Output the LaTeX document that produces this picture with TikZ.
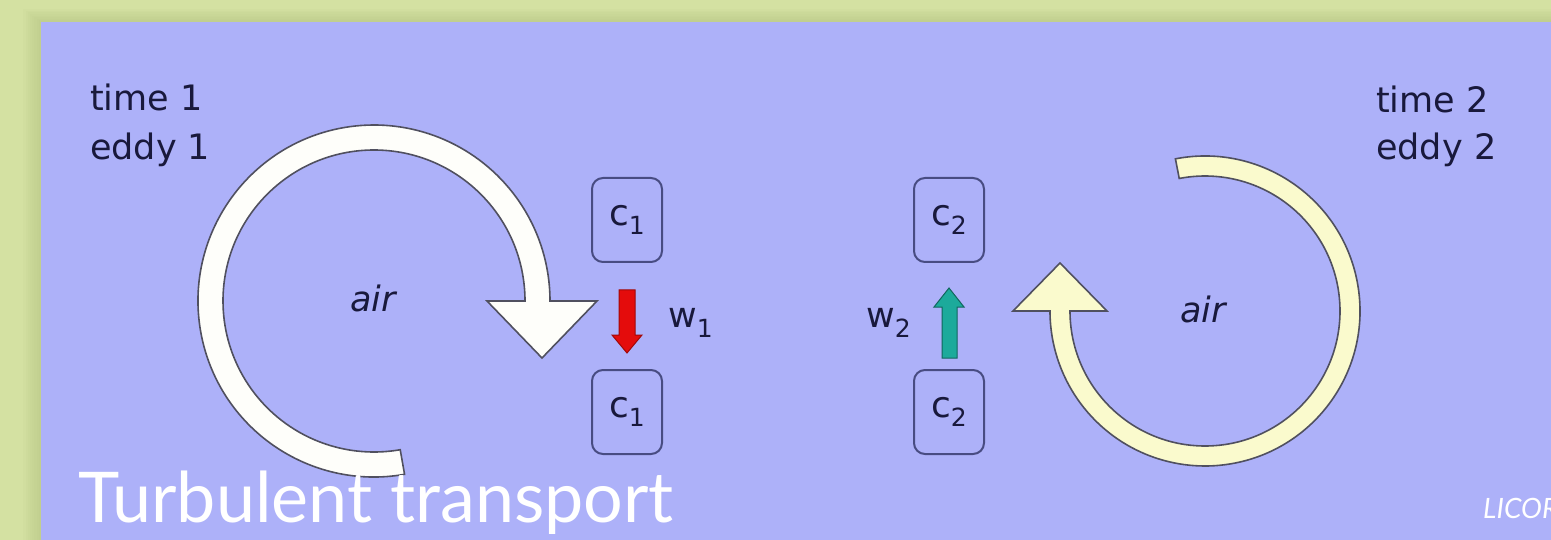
\documentclass[tikz,border=0pt]{standalone}
\usepackage{fontspec}
\newfontfamily\labfam{DejaVu Sans}
\newfontfamily\ttlfam{Lato}
\definecolor{bggreen}{RGB}{212,225,162}
\definecolor{shadowgreen}{RGB}{170,185,120}
\definecolor{panelblue}{RGB}{173,177,249}
\definecolor{ink}{RGB}{25,25,60}
\definecolor{boxline}{RGB}{72,76,130}
\definecolor{ringline}{RGB}{80,80,95}
\definecolor{eddyA}{RGB}{254,254,250}
\definecolor{eddyB}{RGB}{250,250,205}
\definecolor{wred}{RGB}{228,12,12}
\definecolor{wteal}{RGB}{28,170,155}
\begin{document}
\begin{tikzpicture}[x=1pt,y=-1pt,
  lbl/.style={font={\labfam\fontsize{35}{42}\selectfont}, text=ink, inner sep=0pt, anchor=base west},
  airlbl/.style={font={\labfam\itshape\fontsize{35}{42}\selectfont}, text=ink, inner sep=0pt, anchor=base west},
  cbox/.style={draw=boxline, line width=2pt, rounded corners=11pt, minimum width=70pt, minimum height=84pt, inner sep=0pt, font={\labfam\fontsize{36}{40}\selectfont}, text=ink},
  ring/.style={draw=ringline, line width=1.6pt, line join=miter},
  flux/.style={line width=1pt, line join=miter}]
\useasboundingbox (0,0) rectangle (1551,540);
% background
\fill[bggreen] (0,0) rectangle (1551,540);
\foreach \i in {1,...,8} {
  \fill[shadowgreen, opacity=0.06] ({41-\i*2.2},{22-\i*1.6}) rectangle (1551,540);
}
\fill[panelblue] (41,22) rectangle (1551,540);
% labels
\node[lbl] (t1) at (90,111) {time 1};
\node[lbl] (e1) at (90,160) {eddy 1};
\node[lbl] (t2) at (1376,113) {time 2};
\node[lbl] (e2) at (1376,160) {eddy 2};
% left eddy (clockwise)
\draw[ring, fill=eddyA] (374,301) ++(80:176) arc[start angle=80, end angle=360, radius=176]
  -- (597,301) -- (542,358) -- (487,301) -- (525,301)
  arc[start angle=360, end angle=80, radius=151] -- cycle;
\node[airlbl] (air1) at (350,312) {air};
% right eddy
\draw[ring, fill=eddyB] (1205,311) ++(-101:155) arc[start angle=-101, end angle=180, radius=155]
  -- (1013,311) -- (1060,263) -- (1107,311) -- (1070,311)
  arc[start angle=180, end angle=-101, radius=135] -- cycle;
\node[airlbl] (air2) at (1180,323) {air};
% concentration boxes
\node[cbox] (c1t) at (627,220) {c\raisebox{-9pt}{\fontsize{25}{25}\selectfont 1}};
\node[cbox] (c1b) at (627,412) {c\raisebox{-9pt}{\fontsize{25}{25}\selectfont 1}};
\node[cbox] (c2t) at (949,220) {c\raisebox{-9pt}{\fontsize{25}{25}\selectfont 2}};
\node[cbox] (c2b) at (949,412) {c\raisebox{-9pt}{\fontsize{25}{25}\selectfont 2}};
% vertical velocity arrows
\filldraw[flux, fill=wred, draw=wred!70!black] (619,290) -- (635,290) -- (635,335) -- (642,335)
  -- (627,353) -- (612,335) -- (619,335) -- cycle;
\filldraw[flux, fill=wteal, draw=wteal!60!black] (942,358) -- (957,358) -- (957,307) -- (964,307)
  -- (949,288) -- (934,307) -- (942,307) -- cycle;
\node[lbl] (w1) at (668,327) {w\raisebox{-10pt}{\fontsize{25}{25}\selectfont 1}};
\node[lbl] (w2) at (866,327) {w\raisebox{-10pt}{\fontsize{25}{25}\selectfont 2}};
% title
\node[inner sep=0pt, anchor=base west, text=white, font={\ttlfam\fontsize{70}{70}\selectfont}] (title) at (78,522) {Turbulent transport};
\begin{scope}
\clip (0,0) rectangle (1551,540);
\node[inner sep=0pt, anchor=base west, text=white, font={\ttlfam\itshape\fontsize{28}{28}\selectfont}] (licor) at (1483,518) {LICOR};
\end{scope}
\end{tikzpicture}
\end{document}
